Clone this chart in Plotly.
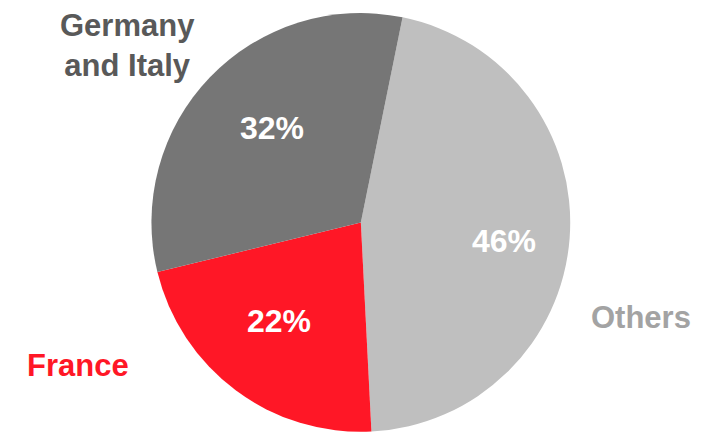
import math
import plotly.graph_objects as go

# Share of the total by group
groups = ["Others", "France", "Germany and Italy"]
shares = [46, 22, 32]
slice_colors = ["#BFBFBF", "#FF1726", "#767676"]
label_colors = ["#A3A3A3", "#FF1726", "#595959"]
label_texts = ["Others", "France", "Germany<br>and Italy"]

FONT = "Liberation Sans, Arial, sans-serif"
W, H = 711, 432
ROTATION = 11.5
DOMAIN_X = [0.213, 0.802]
DOMAIN_Y = [0.0, 0.97]

total = sum(shares)
pct_text = [f"{round(v / total * 100)}%" for v in shares]

fig = go.Figure(
    go.Pie(
        labels=groups,
        values=shares,
        textinfo="none",
        sort=False,
        direction="clockwise",
        rotation=ROTATION,
        marker=dict(colors=slice_colors, line=dict(width=0)),
        showlegend=False,
        hoverinfo="label+percent",
        domain=dict(x=DOMAIN_X, y=DOMAIN_Y),
    )
)

# Percentage labels inside each slice, placed along the slice's mid-angle
cx = (DOMAIN_X[0] + DOMAIN_X[1]) / 2 * W
cy = (DOMAIN_Y[0] + DOMAIN_Y[1]) / 2 * H
radius = min((DOMAIN_X[1] - DOMAIN_X[0]) * W, (DOMAIN_Y[1] - DOMAIN_Y[0]) * H) / 2
label_radius = [0.69, 0.61, 0.62]
cum = 0
for v, txt, rf in zip(shares, pct_text, label_radius):
    mid = math.radians(ROTATION + (cum + v / 2) / total * 360 + 3)
    cum += v
    px = cx + rf * radius * math.sin(mid)
    py = cy + rf * radius * math.cos(mid)
    fig.add_annotation(
        x=px / W, y=py / H, xref="paper", yref="paper",
        text=f"<b>{txt}</b>",
        showarrow=False,
        font=dict(family=FONT, size=32, color="white"),
        xanchor="center", yanchor="middle",
    )

# Category labels placed around the pie
label_pos = {
    "Others": (0.902, 0.264),
    "France": (0.110, 0.153),
    "Germany and Italy": (0.180, 0.895),
}
for g, txt, col in zip(groups, label_texts, label_colors):
    x, y = label_pos[g]
    fig.add_annotation(
        x=x, y=y, xref="paper", yref="paper",
        text=f"<b>{txt}</b>",
        showarrow=False,
        font=dict(family=FONT, size=31, color=col),
        xanchor="center", yanchor="middle",
        align="center",
    )

fig.update_layout(
    width=W,
    height=H,
    margin=dict(l=0, r=0, t=0, b=0),
    paper_bgcolor="white",
    plot_bgcolor="white",
)

fig.write_html("out.html")
